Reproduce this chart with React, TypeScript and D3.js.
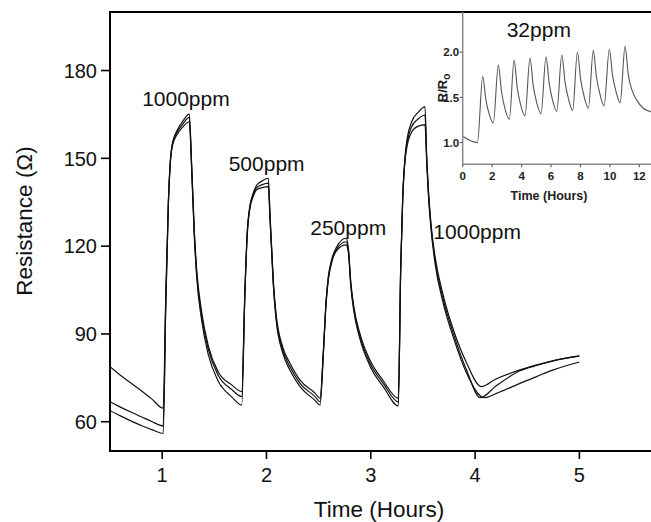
import React from "react";
import * as d3 from "d3";

// ---------- data ----------
const xTicks = [1, 2, 3, 4, 5];
const yTicks = [60, 90, 120, 150, 180];
const insetXTicks = [0, 2, 4, 6, 8, 10, 12];
const insetYTicks = [1.0, 1.5, 2.0];

const annotations = [
  { label: "1000ppm", t: 0.808, v: 168.0 },
  { label: "500ppm", t: 1.638, v: 145.8 },
  { label: "250ppm", t: 2.42, v: 123.9 },
  { label: "1000ppm", t: 3.6, v: 122.4 },
];

const seriesA: [number, number][] = [
  [0.5, 78.8], [0.6, 75.9], [0.7, 73.2], [0.8, 70.6], [0.9, 67.8], [1.01, 64.6],
  [1.035, 104], [1.06, 136], [1.08, 150], [1.1, 155.5], [1.15, 160], [1.2, 162.8], [1.26, 165.1],
  [1.283, 148], [1.308, 125.5], [1.331, 112], [1.379, 97.5], [1.442, 86], [1.538, 77], [1.667, 72.6], [1.763, 70.3],
  [1.794, 105.5], [1.816, 125], [1.842, 134], [1.87, 137.8], [1.906, 140.8], [1.96, 142.3], [2.018, 143.2],
  [2.034, 131], [2.05, 119.5], [2.066, 108], [2.092, 97], [2.156, 85.5], [2.226, 80], [2.322, 74.2], [2.466, 69.8], [2.514, 68.0],
  [2.546, 84.5], [2.572, 101.6], [2.593, 109.6], [2.626, 115.5], [2.673, 119.8], [2.763, 122.7],
  [2.785, 119.5], [2.808, 108], [2.839, 99], [2.897, 90], [2.993, 81], [3.12, 74], [3.264, 68.0],
  [3.287, 113], [3.306, 136.5], [3.338, 154], [3.392, 162.5], [3.456, 165.8], [3.52, 167.6],
  [3.536, 151], [3.55, 141], [3.578, 127.5], [3.616, 116.5], [3.696, 103], [3.791, 91.5], [3.92, 80], [4.06, 72],
  [4.2, 74.6], [4.43, 77.7], [4.6, 79.5], [4.75, 80.9], [5.0, 82.5],
];

const seriesB: [number, number][] = [
  [0.5, 66.8], [0.6, 65.0], [0.7, 63.3], [0.8, 61.7], [0.9, 60.1], [1.01, 58.6],
  [1.035, 101], [1.06, 135], [1.08, 149.5], [1.1, 155], [1.15, 159.3], [1.2, 161.8], [1.26, 164.0],
  [1.283, 147], [1.308, 124.4], [1.331, 110.7], [1.379, 96], [1.442, 84.8], [1.538, 75.8], [1.667, 71], [1.763, 68.6],
  [1.794, 105], [1.816, 124.4], [1.842, 133.5], [1.87, 137.2], [1.906, 140], [1.96, 141], [2.018, 141.5],
  [2.034, 130], [2.05, 118.7], [2.066, 107.3], [2.092, 95.9], [2.156, 84.5], [2.226, 78.8], [2.322, 73.1], [2.466, 68.6], [2.514, 66.8],
  [2.546, 84], [2.572, 101], [2.593, 109], [2.626, 115], [2.673, 119], [2.763, 121.5],
  [2.785, 118.7], [2.808, 107.3], [2.839, 98.2], [2.897, 89.1], [2.993, 80], [3.12, 73.1], [3.264, 66.8],
  [3.287, 112.5], [3.306, 136], [3.338, 153], [3.392, 160.8], [3.456, 163.5], [3.52, 164.8],
  [3.536, 150], [3.55, 140], [3.578, 126.6], [3.616, 115.3], [3.696, 101.6], [3.791, 90.2], [3.92, 77.5], [4.05, 68.2],
  [4.2, 72.2], [4.43, 77.4], [4.6, 79.3], [4.75, 80.8], [5.0, 82.4],
];

const seriesC: [number, number][] = [
  [0.5, 63.8], [0.6, 62.0], [0.7, 60.3], [0.8, 58.7], [0.9, 57.3], [1.01, 56.0],
  [1.035, 100], [1.06, 134.5], [1.08, 149], [1.1, 154.5], [1.15, 158.5], [1.2, 160.8], [1.26, 162.5],
  [1.283, 146], [1.308, 123.5], [1.331, 109.5], [1.379, 94.5], [1.442, 83], [1.538, 73.8], [1.667, 68.5], [1.763, 65.7],
  [1.794, 104.5], [1.816, 124], [1.842, 133], [1.87, 136.7], [1.906, 139.3], [1.96, 140], [2.018, 140.3],
  [2.034, 129], [2.05, 117.8], [2.066, 106.5], [2.092, 95], [2.156, 83.5], [2.226, 77.6], [2.322, 72], [2.466, 67.3], [2.514, 65.7],
  [2.546, 83.5], [2.572, 100.5], [2.593, 108.5], [2.626, 114.5], [2.673, 118.5], [2.763, 120.4],
  [2.785, 118], [2.808, 106.5], [2.839, 97.4], [2.897, 88.2], [2.993, 79], [3.12, 72], [3.264, 65.4],
  [3.287, 112], [3.306, 135.5], [3.338, 152], [3.392, 159], [3.456, 161], [3.52, 161.4],
  [3.536, 149], [3.55, 139], [3.578, 125.7], [3.616, 114.2], [3.696, 100.3], [3.791, 88.9], [3.92, 76.5], [4.09, 68.2],
  [4.2, 69.6], [4.43, 73.1], [4.6, 75.6], [4.75, 77.7], [5.0, 80.4],
];

const insetSeries: [number, number][] = [
  [0, 1.07], [1.0, 1.0], [1.36, 1.73], [1.58, 1.47], [1.81, 1.31], [2.08, 1.215],
  [2.42, 1.86], [2.64, 1.56], [2.88, 1.37], [3.17, 1.26],
  [3.49, 1.91], [3.71, 1.6], [3.95, 1.41], [4.23, 1.295],
  [4.57, 1.935], [4.79, 1.63], [5.03, 1.44], [5.32, 1.32],
  [5.66, 1.95], [5.88, 1.65], [6.12, 1.46], [6.39, 1.345],
  [6.73, 1.97], [6.95, 1.67], [7.19, 1.48], [7.47, 1.355],
  [7.79, 2.0], [8.01, 1.7], [8.25, 1.51], [8.54, 1.38],
  [8.87, 2.02], [9.09, 1.72], [9.33, 1.53], [9.6, 1.405],
  [9.96, 2.03], [10.18, 1.74], [10.42, 1.56], [10.69, 1.44],
  [11.03, 2.065], [11.25, 1.75], [11.5, 1.58], [11.82, 1.47], [12.27, 1.38], [12.72, 1.345], [13.0, 1.335],
];

// ---------- layout ----------
const W = 651;
const H = 522;
const FONT = "'Liberation Sans', Arial, Helvetica, sans-serif";

export default function App() {
  const x = d3.scaleLinear().domain([0.5, 5.7]).range([110, 652.4]);
  const y = d3.scaleLinear().domain([50, 200]).range([451, 12]);

  const xi = d3.scaleLinear().domain([0, 13]).range([462.7, 654.1]);
  const yi = d3.scaleLinear().domain([0.76, 2.445]).range([164.3, 12]);

  const line = d3
    .line<[number, number]>()
    .x((d) => x(d[0]))
    .y((d) => y(d[1]))
    .curve(d3.curveMonotoneX);

  const lineInset = d3
    .line<[number, number]>()
    .x((d) => xi(d[0]))
    .y((d) => yi(d[1]))
    .curve(d3.curveMonotoneX);

  const [x0, x1] = x.range();
  const [yb, yt] = y.range();
  const [xi0] = xi.range();
  const [yib, yit] = yi.range();

  return (
    <svg
      width={W}
      height={H}
      viewBox={`0 0 ${W} ${H}`}
      style={{ position: "absolute", left: 0, top: 0, background: "#fff" }}
      fontFamily={FONT}
    >
      <rect x={0} y={0} width={W} height={H} fill="#fff" />
      <defs>
        <clipPath id="mainClip">
          <rect x={x0} y={yt} width={x1 - x0} height={yb - yt} />
        </clipPath>
        <clipPath id="insetClip">
          <rect x={xi0} y={yit} width={W - xi0} height={yib - yit} />
        </clipPath>
      </defs>

      {/* main curves */}
      <g clipPath="url(#mainClip)" fill="none" stroke="#111" strokeWidth={1.2}>
        {[seriesA, seriesB, seriesC].map((s, i) => (
          <path key={i} d={line(s) || ""} />
        ))}
      </g>

      {/* main frame */}
      <g stroke="#000" strokeWidth={2} fill="none">
        <line x1={x0} y1={yt} x2={W} y2={yt} />
        <line x1={x0} y1={yb} x2={W} y2={yb} />
        <line x1={x0} y1={yt - 1} x2={x0} y2={yb + 1} />
      </g>

      {/* y ticks */}
      {yTicks.map((v) => (
        <g key={v}>
          <line x1={x0 - 9} x2={x0} y1={y(v)} y2={y(v)} stroke="#000" strokeWidth={1.6} />
          <text x={x0 - 13} y={y(v)} dy="0.36em" textAnchor="end" fontSize={20} fill="#111">
            {v}
          </text>
        </g>
      ))}

      {/* x ticks */}
      {xTicks.map((v) => (
        <g key={v}>
          <line x1={x(v)} x2={x(v)} y1={yb} y2={yb + 8} stroke="#000" strokeWidth={1.6} />
          <text x={x(v)} y={482} textAnchor="middle" fontSize={20} fill="#111">
            {v}
          </text>
        </g>
      ))}

      {/* axis titles */}
      <text x={379} y={517} textAnchor="middle" fontSize={22.5} fill="#111">
        Time (Hours)
      </text>
      <text
        transform={`translate(32,221) rotate(-90)`}
        textAnchor="middle"
        fontSize={22.5}
        fill="#111"
      >
        Resistance (Ω)
      </text>

      {/* annotations */}
      {annotations.map((a, i) => (
        <text key={i} x={x(a.t)} y={y(a.v)} fontSize={21} fill="#111">
          {a.label}
        </text>
      ))}

      {/* inset */}
      <g>
        <path
          d={lineInset(insetSeries) || ""}
          clipPath="url(#insetClip)"
          fill="none"
          stroke="#555"
          strokeWidth={1.1}
        />
        <line x1={xi0} y1={yit} x2={xi0} y2={yib} stroke="#888" strokeWidth={1.5} />
        <line x1={xi0} y1={yib} x2={W} y2={yib} stroke="#888" strokeWidth={1.5} />
        {insetYTicks.map((v) => (
          <g key={v}>
            <line x1={xi0 - 3} x2={xi0} y1={yi(v)} y2={yi(v)} stroke="#666" strokeWidth={1.2} />
            <text
              x={xi0 - 3.5}
              y={yi(v)}
              dy="0.36em"
              textAnchor="end"
              fontSize={11.5}
              fontWeight="bold"
              fill="#222"
            >
              {v.toFixed(1)}
            </text>
          </g>
        ))}
        {insetXTicks.map((v) => (
          <g key={v}>
            <line x1={xi(v)} x2={xi(v)} y1={yib} y2={yib + 3} stroke="#666" strokeWidth={1.2} />
            <text
              x={xi(v)}
              y={179.5}
              textAnchor="middle"
              fontSize={11.5}
              fontWeight="bold"
              fill="#222"
            >
              {v}
            </text>
          </g>
        ))}
        <text x={549} y={199.5} textAnchor="middle" fontSize={12.5} fontWeight="bold" fill="#222">
          Time (Hours)
        </text>
        <text
          transform={`translate(446.5,88) rotate(-90)`}
          textAnchor="middle"
          fontSize={13}
          fontWeight="bold"
          fill="#222"
        >
          R/R
          <tspan fontSize={10} dy={3.5}>
            o
          </tspan>
        </text>
        <text x={506.7} y={36.7} fontSize={21} fill="#111">
          32ppm
        </text>
      </g>
    </svg>
  );
}
